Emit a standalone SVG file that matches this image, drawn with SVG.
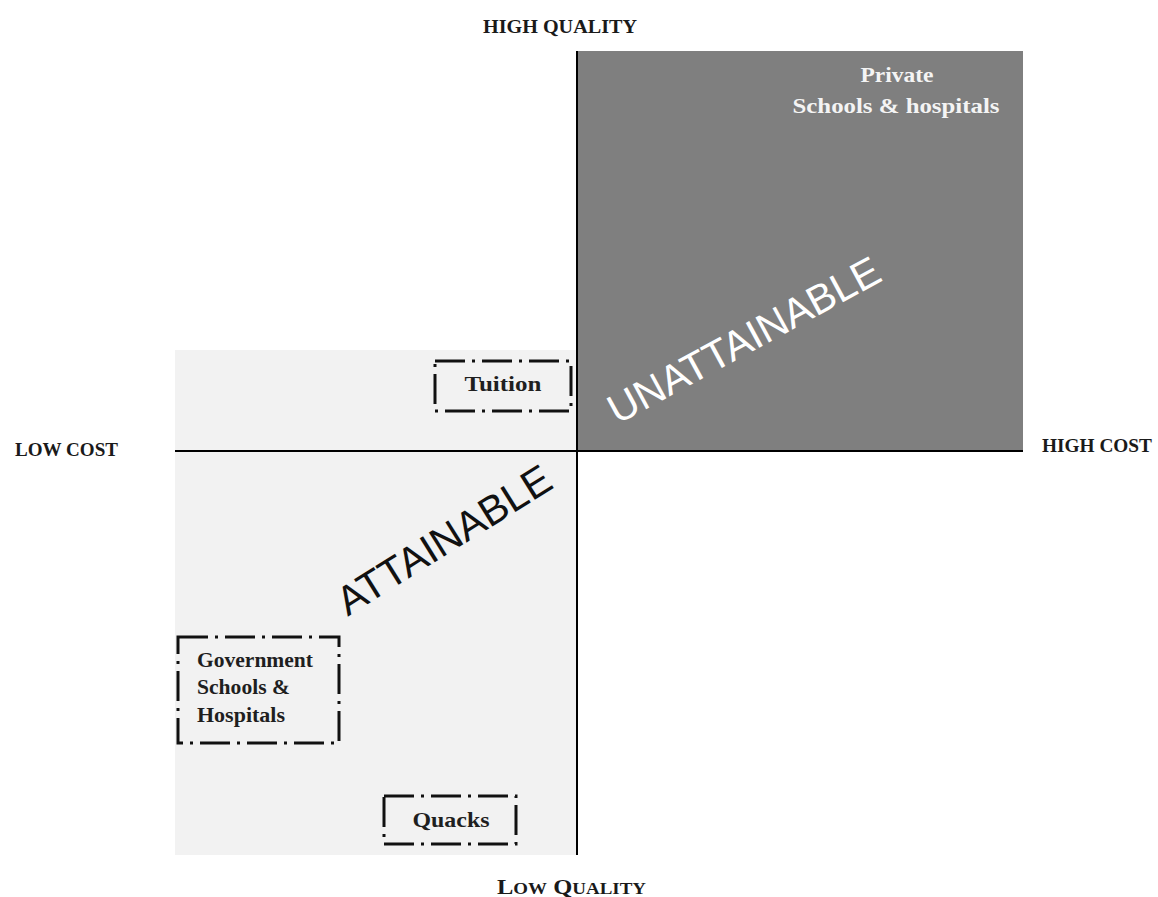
<svg xmlns="http://www.w3.org/2000/svg" width="1158" height="897" viewBox="0 0 1158 897">
  <style>
    .axis-label { font-family: "Liberation Serif", "DejaVu Serif", serif; font-weight: bold; fill: #1a1a1a; }
    .node-text { font-family: "Liberation Serif", "DejaVu Serif", serif; font-weight: bold; font-size: 22px; fill: #1f1f1f; }
    .light-text { fill: #f4f4f4; }
    .zone-text { font-family: "Liberation Sans", Arial, sans-serif; font-size: 41px; }
    .box { fill: none; stroke: #111; stroke-width: 3; stroke-dasharray: 30 7 3 7; }
    .axis { stroke: #000; stroke-width: 2; fill: none; }
  </style>

  <rect width="1158" height="897" fill="#ffffff"/>

  <!-- quadrant shading -->
  <g id="attainable-zone">
    <rect x="175" y="350" width="402" height="505" fill="#f2f2f2"/>
    <text class="zone-text" fill="#111" text-anchor="middle" transform="translate(444,540) rotate(-32)" y="14">ATTAINABLE</text>
  </g>
  <g id="unattainable-zone">
    <rect x="577" y="51" width="446" height="400" fill="#7f7f7f"/>
    <text class="zone-text" fill="#ffffff" text-anchor="middle" transform="translate(744,340) rotate(-28.5)" y="14">UNATTAINABLE</text>
  </g>

  <!-- axes -->
  <g id="axes">
    <line class="axis" x1="577" y1="51" x2="577" y2="855"/>
    <line class="axis" x1="175" y1="451" x2="1023" y2="451"/>
  </g>

  <!-- axis labels -->
  <g id="axis-labels">
    <text class="axis-label" x="483" y="33" font-size="19" textLength="154" lengthAdjust="spacingAndGlyphs">HIGH QUALITY</text>
    <text class="axis-label" x="15" y="456" font-size="19" textLength="103" lengthAdjust="spacingAndGlyphs">LOW COST</text>
    <text class="axis-label" x="1042" y="452" font-size="19" textLength="110" lengthAdjust="spacingAndGlyphs">HIGH COST</text>
    <text class="axis-label" x="497" y="894" font-size="22" textLength="149" lengthAdjust="spacingAndGlyphs">L<tspan font-size="17">OW</tspan> Q<tspan font-size="17">UALITY</tspan></text>
  </g>

  <!-- offerings -->
  <g id="private">
    <text class="node-text light-text" x="897" y="82" text-anchor="middle" textLength="73" lengthAdjust="spacingAndGlyphs">Private</text>
    <text class="node-text light-text" x="896" y="113" text-anchor="middle" textLength="207" lengthAdjust="spacingAndGlyphs">Schools &amp; hospitals</text>
  </g>

  <g id="tuition">
    <rect class="box" x="435" y="361" width="136" height="50"/>
    <text class="node-text" x="503" y="391" text-anchor="middle" textLength="77" lengthAdjust="spacingAndGlyphs">Tuition</text>
  </g>

  <g id="government">
    <rect class="box" x="178" y="637" width="161" height="106"/>
    <text class="node-text" x="197" y="667" textLength="116" lengthAdjust="spacingAndGlyphs">Government</text>
    <text class="node-text" x="197" y="694" textLength="93" lengthAdjust="spacingAndGlyphs">Schools &amp;</text>
    <text class="node-text" x="197" y="722" textLength="88" lengthAdjust="spacingAndGlyphs">Hospitals</text>
  </g>

  <g id="quacks">
    <rect class="box" x="384" y="796" width="132" height="48"/>
    <text class="node-text" x="451" y="827" text-anchor="middle" textLength="77" lengthAdjust="spacingAndGlyphs">Quacks</text>
  </g>
</svg>
